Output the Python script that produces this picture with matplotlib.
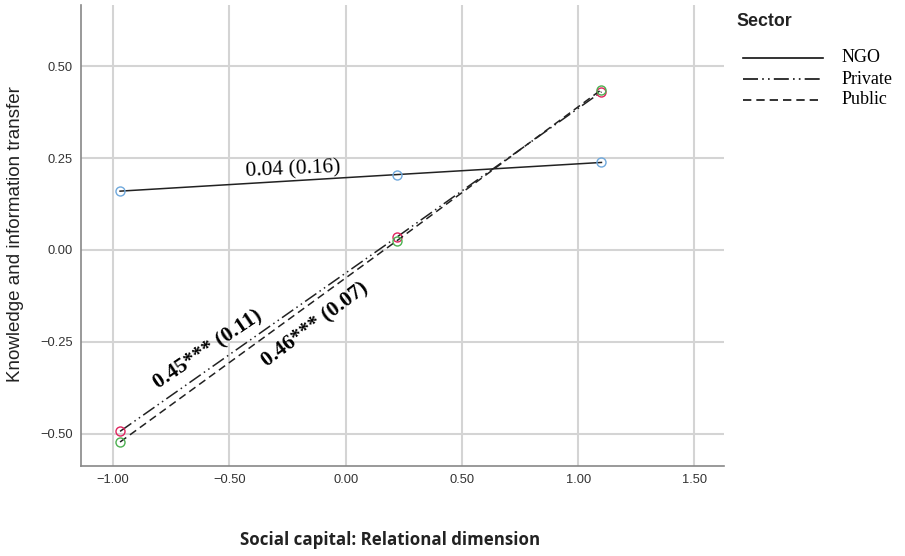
import matplotlib.pyplot as plt
from matplotlib.lines import Line2D

# --- Data ---
x_levels = [-0.97, 0.22, 1.10]
ngo = [0.160, 0.205, 0.238]
private = [-0.493, 0.035, 0.430]
public = [-0.522, 0.025, 0.436]

x_ticks = [-1.0, -0.5, 0.0, 0.5, 1.0, 1.5]
y_ticks = [-0.5, -0.25, 0.0, 0.25, 0.5]

series_names = ["NGO", "Private", "Public"]
line_styles = ["-", (0, (9, 2.5, 1, 2.5, 1, 2.5)), (0, (5, 3))]
marker_colors = ["#6fa8dc", "#e0245e", "#4caf50"]

plt.rcParams['font.family'] = ['Liberation Sans', 'DejaVu Sans']

W, H = 905, 556
fig = plt.figure(figsize=(W / 100, H / 100), dpi=100)
ax = fig.add_axes([0.0895, 0.162, 0.71, 0.829])

for vals, ls, mc in zip([ngo, private, public], line_styles, marker_colors):
    ax.plot(x_levels, vals, color="#222222", linestyle=ls, linewidth=1.1,
            marker="o", markersize=6.5, markerfacecolor="none",
            markeredgecolor=mc, markeredgewidth=1.0, zorder=3)

ax.set_xlim(-1.138, 1.625)
ax.set_ylim(-0.587, 0.666)
ax.set_xticks(x_ticks)
ax.set_xticklabels([f"{v:.2f}".replace("-", "\u2212") for v in x_ticks])
ax.set_yticks(y_ticks)
ax.set_yticklabels([f"{v:.2f}".replace("-", "\u2212") for v in y_ticks])
ax.tick_params(length=0, labelsize=9.3, colors="#333333", pad=6)
ax.grid(True, color="#d4d4d4", linewidth=1.5)
ax.set_axisbelow(True)
for s in ["top", "right"]:
    ax.spines[s].set_visible(False)
for s in ["left", "bottom"]:
    ax.spines[s].set_color("#888888")
    ax.spines[s].set_linewidth(1.2)

ax.set_xlabel("Social capital: Relational dimension", fontsize=12.2,
              fontweight="bold", family="Open Sans", color="#222222")
ax.xaxis.set_label_coords((390 - 81) / 642, -(531 - 466) / 461, transform=ax.transAxes)
ax.set_ylabel("Knowledge and information transfer", fontsize=13.5, color="#222222")
ax.yaxis.set_label_coords(-(81 - 24) / 642, (466 - 234) / 461, transform=ax.transAxes)

# slope annotations
ax.text(-0.225, 0.217, "0.04 (0.16)", family="Liberation Serif", fontsize=15.5,
        rotation=2.5, ha="center", va="center")
ax.text(-0.59, -0.272, "0.45*** (0.11)", family="Liberation Serif", fontsize=15.5,
        fontweight="bold", rotation=34, ha="center", va="center")
ax.text(-0.13, -0.204, "0.46*** (0.07)", family="Liberation Serif", fontsize=15.5,
        fontweight="bold", rotation=37, ha="center", va="center")

# legend, placed by hand in pixel positions of the figure
fig.text(736 / W, 1 - 22 / H, "Sector", fontsize=12.8, fontweight="bold",
         ha="left", va="center", color="#222222")
for i, (name, ls) in enumerate(zip(series_names, line_styles)):
    yy = 1 - (58 + 21 * i) / H
    fig.add_artist(Line2D([743 / W, 823 / W], [yy, yy], color="#111111",
                          linestyle=ls, linewidth=1.2))
    fig.text(842 / W, yy, name, family="Liberation Serif", fontsize=13,
             ha="left", va="center")

fig.savefig("out.png", dpi=100)
